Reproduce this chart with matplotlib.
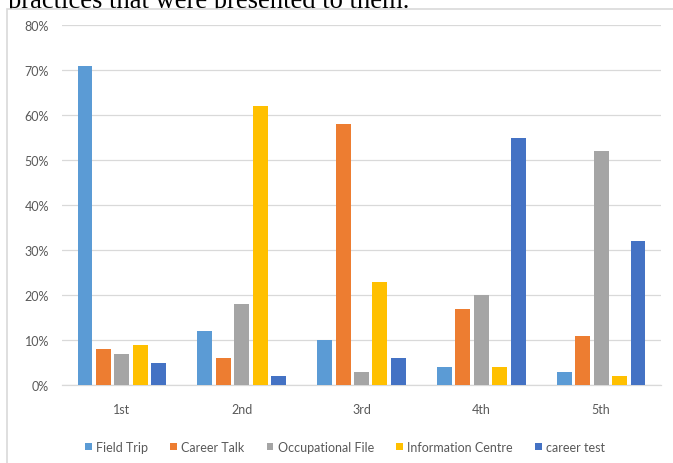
import matplotlib.pyplot as plt
import matplotlib.patches as patches
import numpy as np

categories = ['1st', '2nd', '3rd', '4th', '5th']
series_names = ['Field Trip', 'Career Talk', 'Occupational File', 'Information Centre', 'career test']
field_trip = [71, 12, 10, 4, 3]
career_talk = [8, 6, 58, 17, 11]
occupational_file = [7, 18, 3, 20, 52]
information_centre = [9, 62, 23, 4, 2]
career_test = [5, 2, 6, 55, 32]
y_ticks = [0, 10, 20, 30, 40, 50, 60, 70, 80]

series = [field_trip, career_talk, occupational_file, information_centre, career_test]
colors = ['#5B9BD5', '#ED7D31', '#A5A5A5', '#FFC000', '#4472C4']

plt.rcParams['font.family'] = ['Lato', 'DejaVu Sans']

fig = plt.figure(figsize=(6.73, 4.64), dpi=100)

# leftover caption from the document above the chart (cut off at the top)
fig.text(8 / 673, 1 - 8 / 464, 'practices that were presented to them.',
         family='Liberation Serif', fontsize=19.2, va='baseline', ha='left',
         color='black', zorder=-2)

# chart frame (runs off the right and bottom edges), white fill hides descenders
frame = patches.Rectangle((7 / 673, -0.05), 1.0, 1 - 9.5 / 464 + 0.05,
                          transform=fig.transFigure, facecolor='white',
                          edgecolor='#D9D9D9', linewidth=1.2, zorder=-1)
fig.patches.append(frame)

ax = fig.add_axes([62 / 673, 1 - 386 / 464, 599 / 673, 360 / 464])
ax.patch.set_alpha(0)

x = np.arange(len(categories))
step = 0.154
width = 0.125
for i, (vals, c, name) in enumerate(zip(series, colors, series_names)):
    ax.bar(x + (i - 2) * step, np.array(vals) / 100, width=width, color=c,
           label=name, zorder=3)

ax.set_xlim(-0.5, len(categories) - 0.5)
ax.set_ylim(0, 0.8)
ax.set_yticks([t / 100 for t in y_ticks])
ax.set_yticklabels([f'{t}%' for t in y_ticks])
ax.set_xticks(x)
ax.set_xticklabels(categories)
ax.tick_params(axis='both', length=0, labelsize=9, labelcolor='#595959')
ax.tick_params(axis='x', pad=13)
ax.tick_params(axis='y', pad=9.4)
ax.grid(axis='y', color='#D9D9D9', linewidth=0.9, zorder=0)
for side in ['top', 'right', 'left']:
    ax.spines[side].set_visible(False)
ax.spines['bottom'].set_color('#D9D9D9')
ax.spines['bottom'].set_linewidth(0.9)

handles, labels = ax.get_legend_handles_labels()
fig.legend(handles, labels, loc='center', ncol=5,
           bbox_to_anchor=(345 / 673, 1 - 448 / 464), frameon=False,
           fontsize=9, labelcolor='#595959', handlelength=0.55,
           handleheight=0.55, handletextpad=0.35, columnspacing=1.75)

fig.savefig('out.png', dpi=100)
